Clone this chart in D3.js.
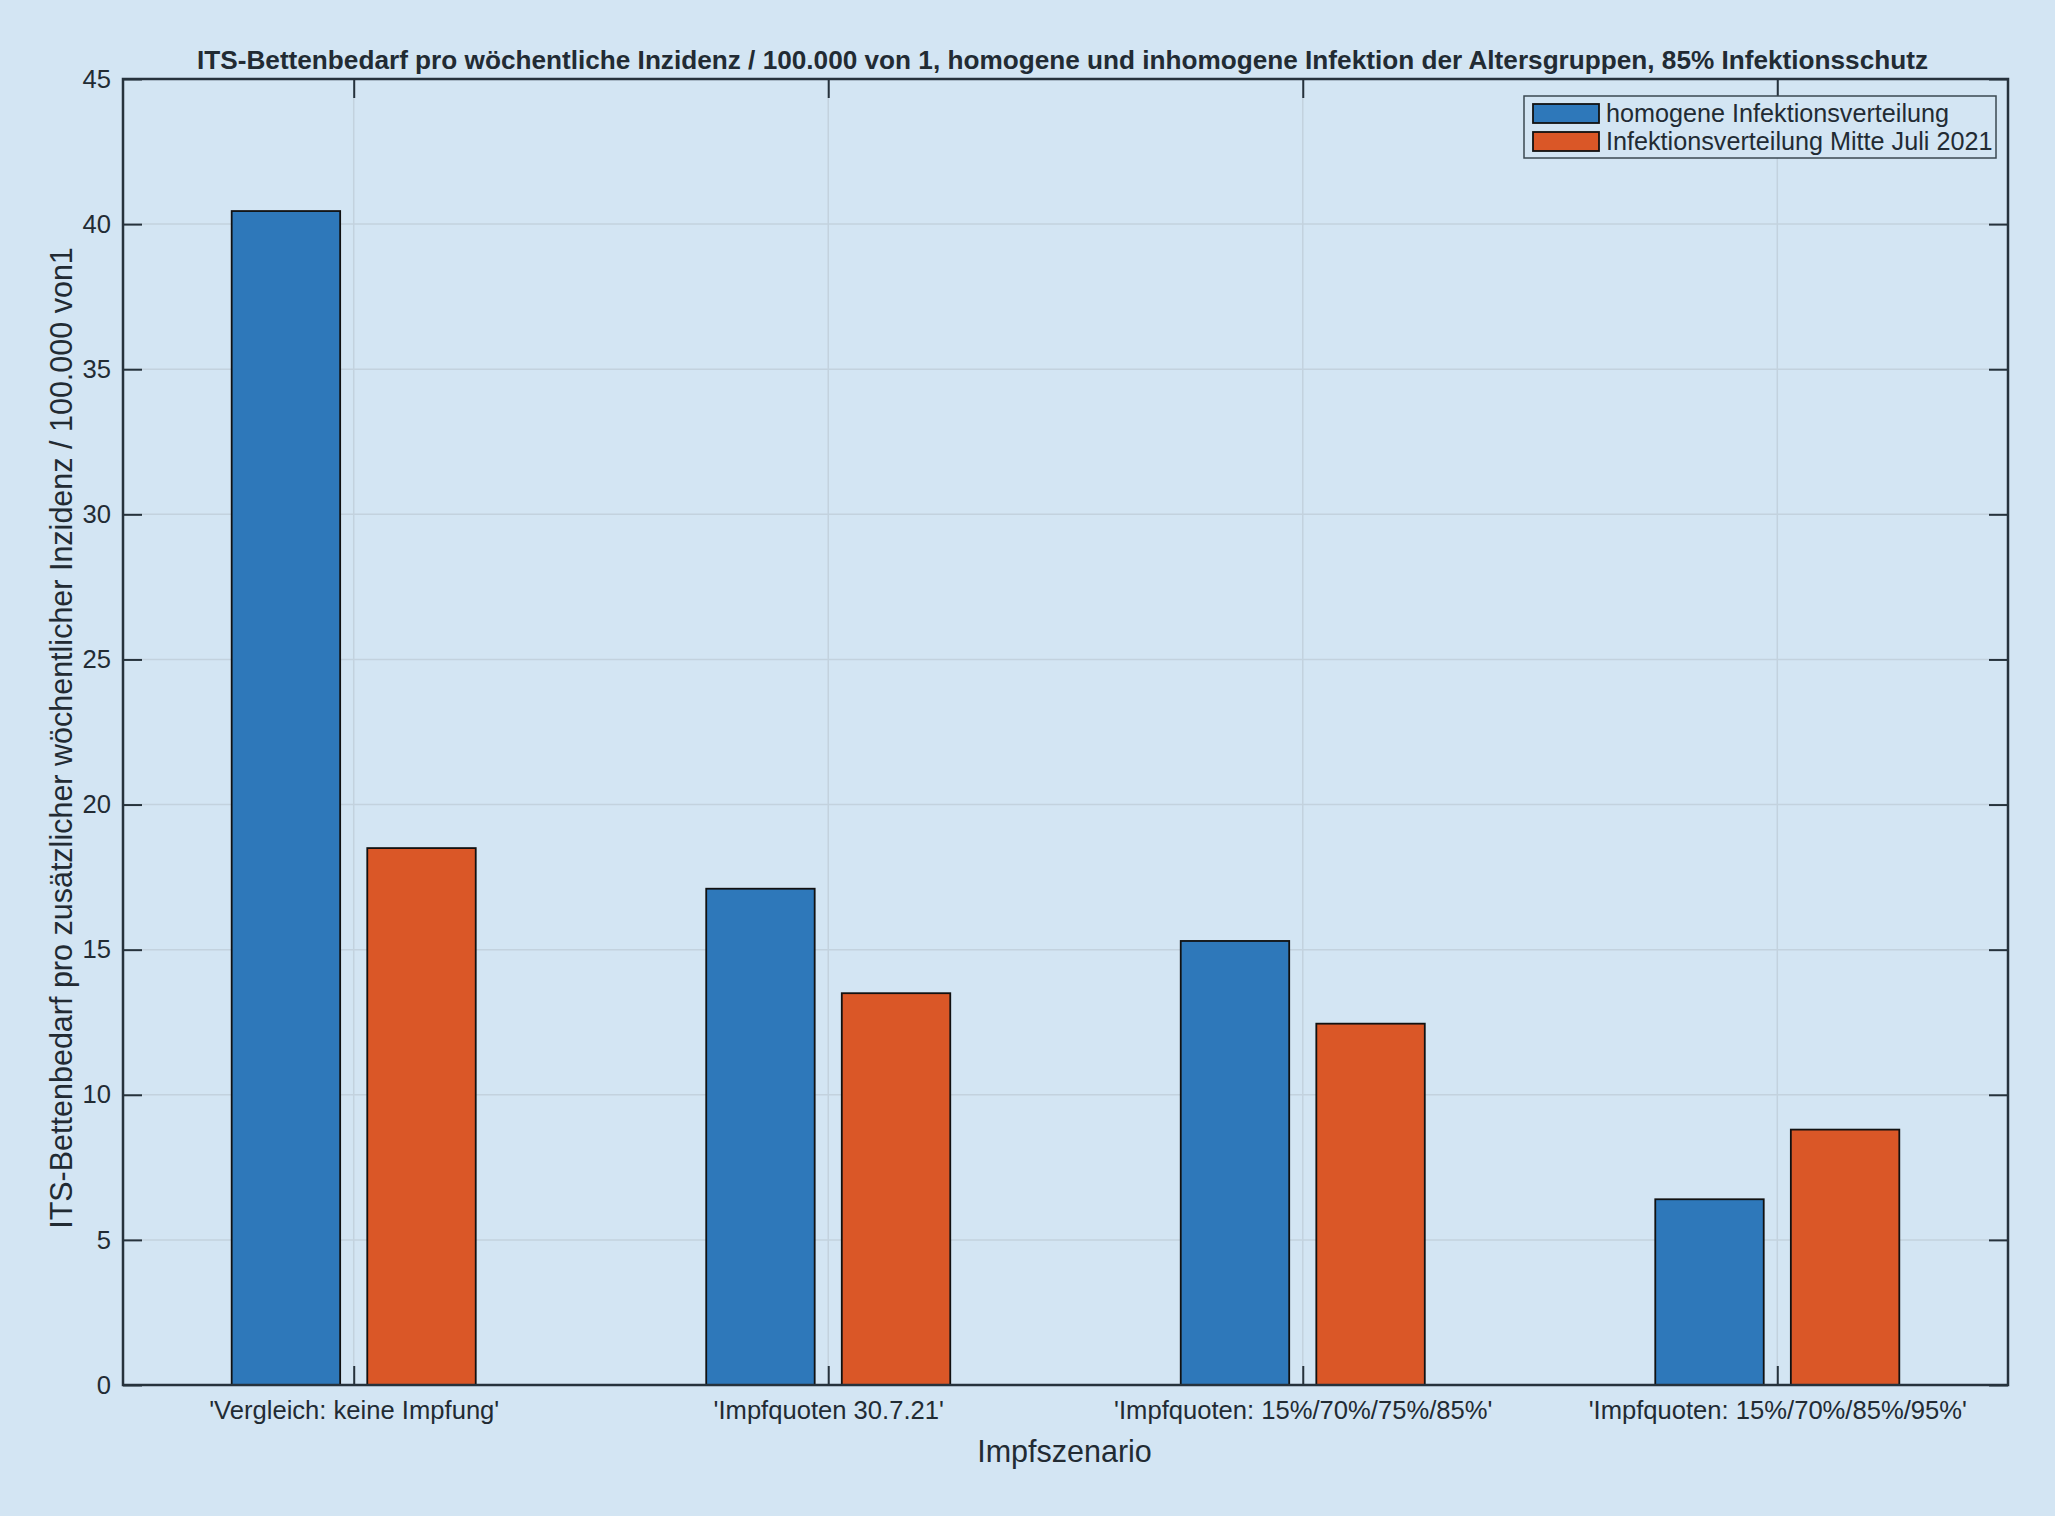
<!DOCTYPE html>
<html>
<head>
<meta charset="utf-8">
<script src="https://cdn.jsdelivr.net/npm/d3@7"></script>
<style>
  html, body { margin: 0; padding: 0; background: #d3e5f3; }
  svg { display: block; font-family: "Liberation Sans", Arial, Helvetica, sans-serif; }
</style>
</head>
<body>
<svg id="chart" width="2055" height="1516"></svg>
<script>
// ---- data ----
const categories = ["'Vergleich: keine Impfung'", "'Impfquoten 30.7.21'", "'Impfquoten: 15%/70%/75%/85%'", "'Impfquoten: 15%/70%/85%/95%'"];
const seriesNames = ["homogene Infektionsverteilung", "Infektionsverteilung Mitte Juli 2021"];
const homogeneValues = [40.45, 17.1, 15.3, 6.4];
const juli2021Values = [18.5, 13.5, 12.45, 8.8];
const yTicks = [0, 5, 10, 15, 20, 25, 30, 35, 40, 45];
const seriesColors = ["#2e78ba", "#da5727"];
const titleText = "ITS-Bettenbedarf pro wöchentliche Inzidenz / 100.000 von 1, homogene und inhomogene Infektion der Altersgruppen, 85% Infektionsschutz";
const xLabelText = "Impfszenario";
const yLabelText = "ITS-Bettenbedarf pro zusätzlicher wöchentlicher Inzidenz / 100.000 von1";

const W = 2055, H = 1516;
const plot = { left: 123, right: 2008, top: 79, bottom: 1385 };
const axisColor = "#26323c";
const gridColor = "#c3d2de";
const tickLen = 19;
const tickFont = 25.6;

const svg = d3.select("#chart");
svg.append("rect").attr("width", W).attr("height", H).attr("fill", "#d3e5f3");

// category index scale (1..n) like MATLAB
const n = categories.length;
const pad = 0.4862;
const x = d3.scaleLinear().domain([1 - pad, n + pad]).range([plot.left, plot.right]);
const y = d3.scaleLinear().domain([0, 45]).range([plot.bottom, plot.top]);

const groupWidth = Math.min(0.8, 2 / (2 + 1.5));
const barW = groupWidth / 2 * 0.8;
const offsets = [-groupWidth / 4, groupWidth / 4];

// axes background
svg.append("rect").attr("x", plot.left).attr("y", plot.top)
  .attr("width", plot.right - plot.left).attr("height", plot.bottom - plot.top)
  .attr("fill", "#d3e5f3");

// grid
const grid = svg.append("g");
grid.selectAll("line.h").data(yTicks.slice(1, -1)).join("line")
  .attr("x1", plot.left).attr("x2", plot.right)
  .attr("y1", d => y(d)).attr("y2", d => y(d))
  .attr("stroke", gridColor).attr("stroke-width", 1.5);
grid.selectAll("line.v").data(d3.range(1, n + 1)).join("line")
  .attr("x1", d => x(d)).attr("x2", d => x(d))
  .attr("y1", plot.top).attr("y2", plot.bottom)
  .attr("stroke", gridColor).attr("stroke-width", 1.5);

// bars
const seriesData = [homogeneValues, juli2021Values];
seriesData.forEach((vals, si) => {
  svg.append("g").selectAll("rect").data(vals).join("rect")
    .attr("x", (d, i) => x(i + 1 + offsets[si] - barW / 2))
    .attr("width", x(barW) - x(0))
    .attr("y", d => y(d))
    .attr("height", d => y(0) - y(d))
    .attr("fill", seriesColors[si])
    .attr("stroke", "#111")
    .attr("stroke-width", 1.8);
});

// axes with d3 axis generators (ticks pointing inward)
const yAxisL = d3.axisLeft(y).tickValues(yTicks).tickSizeInner(-tickLen).tickSizeOuter(0).tickPadding(12);
const yAxisR = d3.axisRight(y).tickValues(yTicks).tickSizeInner(-tickLen).tickSizeOuter(0).tickFormat("");
const xAxisB = d3.axisBottom(x).tickValues(d3.range(1, n + 1)).tickSizeInner(-tickLen).tickSizeOuter(0)
  .tickPadding(12).tickFormat(d => categories[d - 1]);
const xAxisT = d3.axisTop(x).tickValues(d3.range(1, n + 1)).tickSizeInner(-tickLen).tickSizeOuter(0).tickFormat("");

function styleAxis(g) {
  g.select(".domain").remove();
  g.selectAll(".tick line").attr("stroke", axisColor).attr("stroke-width", 2);
  g.selectAll(".tick text").attr("fill", "#222b33").style("font-family", "'Liberation Sans', Arial, sans-serif");
}
const gL = svg.append("g").attr("transform", `translate(${plot.left},0)`).call(yAxisL).call(styleAxis);
gL.selectAll(".tick text").style("font-size", tickFont + "px");
const gR = svg.append("g").attr("transform", `translate(${plot.right},0)`).call(yAxisR).call(styleAxis);
const gB = svg.append("g").attr("transform", `translate(0,${plot.bottom})`).call(xAxisB).call(styleAxis);
gB.selectAll(".tick text").style("font-size", tickFont + "px").attr("y", 16).attr("dy", "0.71em");
const gT = svg.append("g").attr("transform", `translate(0,${plot.top})`).call(xAxisT).call(styleAxis);

// box
svg.append("rect").attr("x", plot.left).attr("y", plot.top)
  .attr("width", plot.right - plot.left).attr("height", plot.bottom - plot.top)
  .attr("fill", "none").attr("stroke", axisColor).attr("stroke-width", 2.5);

// title
svg.append("text").attr("x", (plot.left + plot.right) / 2 - 3).attr("y", 69)
  .attr("text-anchor", "middle").attr("font-weight", "bold").attr("font-size", 25.5)
  .attr("fill", "#222b33")
  .attr("textLength", 1731).attr("lengthAdjust", "spacingAndGlyphs")
  .text(titleText);

// axis labels
svg.append("text").attr("x", (plot.left + plot.right) / 2 - 1).attr("y", 1462)
  .attr("text-anchor", "middle").attr("font-size", 30.5).attr("fill", "#222b33")
  .text(xLabelText);
svg.append("text").attr("transform", `translate(72,${(plot.top + plot.bottom) / 2 + 6}) rotate(-90)`)
  .attr("text-anchor", "middle").attr("font-size", 30.5).attr("fill", "#222b33")
  .text(yLabelText);

// legend
const lg = svg.append("g");
lg.append("rect").attr("x", 1524).attr("y", 96).attr("width", 472).attr("height", 62)
  .attr("fill", "#d3e5f3").attr("stroke", "#3b4852").attr("stroke-width", 1.5);
seriesNames.forEach((name, i) => {
  const yy = 104 + i * 28;
  lg.append("rect").attr("x", 1533).attr("y", yy).attr("width", 66).attr("height", 19)
    .attr("fill", seriesColors[i]).attr("stroke", "#111").attr("stroke-width", 1.8);
  lg.append("text").attr("x", 1606).attr("y", yy + 18).attr("font-size", 25.2).attr("fill", "#222b33")
    .text(name);
});
</script>
</body>
</html>
